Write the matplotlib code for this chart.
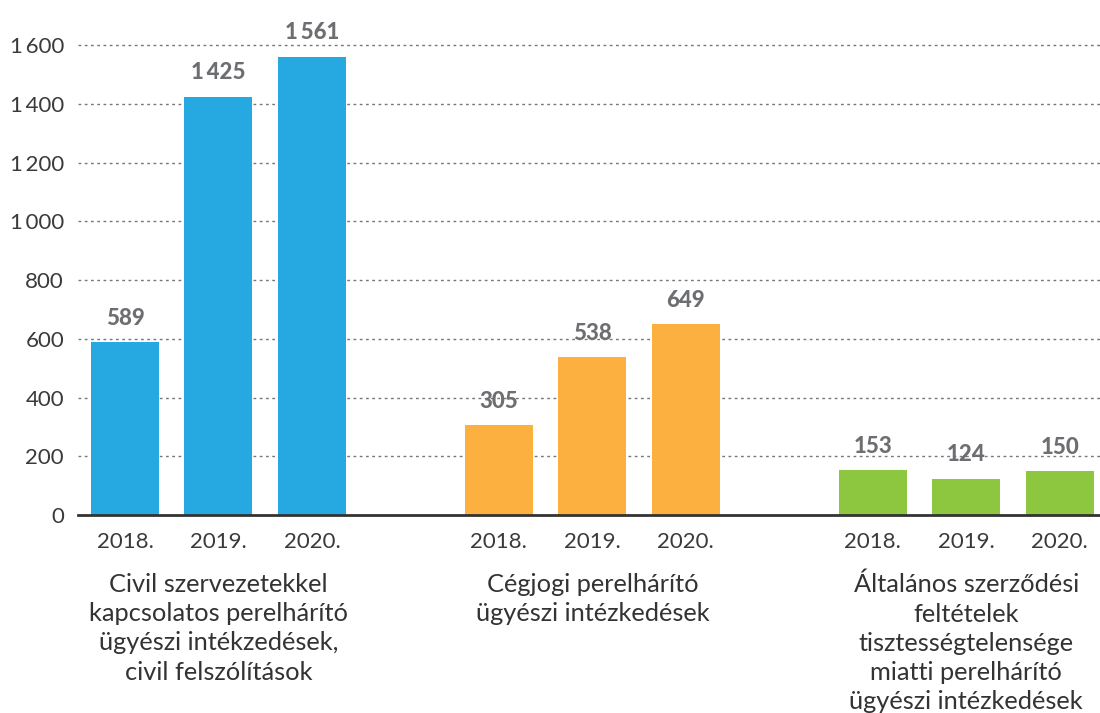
import matplotlib
matplotlib.use("Agg")
import matplotlib.pyplot as plt

plt.rcParams['font.family'] = ['Lato', 'DejaVu Sans']

# data
years = ['2018.', '2019.', '2020.']
groups = [
    'Civil szervezetekkel\nkapcsolatos perelhárító\nügyészi intékzedések,\ncivil felszólítások',
    'Cégjogi perelhárító\nügyészi intézkedések',
    'Általános szerződési\nfeltételek\ntisztességtelensége\nmiatti perelhárító\nügyészi intézkedések',
]
civil = [589, 1425, 1561]
cegjogi = [305, 538, 649]
aszf = [153, 124, 150]
colors = ['#25a9e0', '#fbb040', '#8dc63f']
yticks = [0, 200, 400, 600, 800, 1000, 1200, 1400, 1600]

def _fmt(v):
    s = f'{v:,}'
    return s.replace(',', '\u2009')

fig = plt.figure(figsize=(11, 7.13), dpi=100)
ax = fig.add_axes([0.0709, 0.2777, 0.929, 0.659])

series = [civil, cegjogi, aszf]
xpos = []
for g, vals in enumerate(series):
    xs = [g * 4 + i for i in range(len(vals))]
    xpos += xs
    ax.bar(xs, vals, width=0.727, color=colors[g], zorder=3)
    for x, v in zip(xs, vals):
        ax.text(x, v + 45, _fmt(v), ha='center', va='bottom', fontsize=16,
                fontweight='black', color='#6d6e71')
    ax.text(g * 4 + 1, -0.123, groups[g], transform=ax.get_xaxis_transform(),
            ha='center', va='top', fontsize=18.3, color='#333333',
            linespacing=1.33)

ax.set_xlim(-0.503, 10.43)
ax.set_ylim(0, 1600)
ax.set_xticks(xpos)
ax.set_xticklabels(years * 3)
ax.set_yticks(yticks)
ax.set_yticklabels([_fmt(v) for v in yticks])

for y in yticks[1:]:
    ax.axhline(y, color='#777777', linestyle=(0, (2, 2.5)), linewidth=1, zorder=1, clip_on=False)
ax.axhline(0, color='#333333', linewidth=2, zorder=4, clip_on=False)

for s in ax.spines.values():
    s.set_visible(False)
ax.tick_params(axis='both', length=0, labelsize=16, colors='#3a3a3a')
ax.tick_params(axis='x', pad=12)
ax.tick_params(axis='y', pad=10)

fig.savefig('out.png', dpi=100)
